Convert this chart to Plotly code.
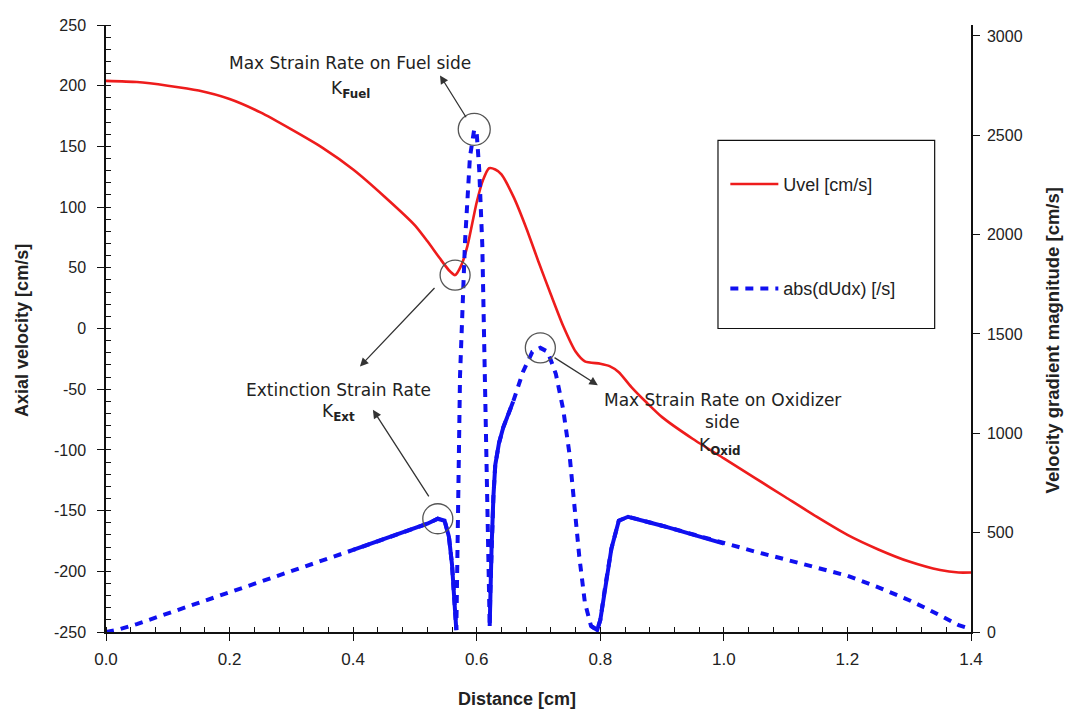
import numpy as np
import plotly.graph_objects as go

# ---------------- data ----------------
uvel_x = [0.0, 0.05, 0.1, 0.15, 0.2, 0.25, 0.3, 0.35, 0.4, 0.45, 0.5, 0.52, 0.54, 0.555,
          0.565, 0.575, 0.585, 0.6, 0.61, 0.62, 0.63, 0.64, 0.66, 0.68, 0.7, 0.72, 0.74,
          0.76, 0.775, 0.8, 0.815, 0.83, 0.85, 0.875, 0.9, 0.95, 1.0, 1.05, 1.1, 1.15,
          1.2, 1.25, 1.3, 1.35, 1.38, 1.4]
uvel_y = [204, 203, 200, 196, 189, 178, 164, 149, 131, 109, 85, 72, 58, 48,
          44, 52, 68, 104, 122, 132, 131, 127, 108, 83, 55, 28, 2,
          -19, -27, -29, -31, -36, -48, -61, -73, -91, -107, -123, -139, -155,
          -170, -182, -192, -199, -201, -201]

dudx_x = [0.0, 0.02, 0.05, 0.1, 0.15, 0.2, 0.25, 0.3, 0.35, 0.4, 0.45, 0.5, 0.52, 0.537,
          0.548, 0.555, 0.56, 0.564, 0.567, 0.573, 0.581, 0.589, 0.596, 0.6, 0.604, 0.609,
          0.613, 0.617, 0.621, 0.622, 0.624, 0.627, 0.63, 0.636, 0.643, 0.659, 0.675, 0.69,
          0.703, 0.715, 0.728, 0.74, 0.75, 0.758, 0.766, 0.775, 0.785, 0.795, 0.8, 0.808,
          0.818, 0.83, 0.845, 0.9, 0.95, 1.0, 1.05, 1.1, 1.15, 1.2, 1.25, 1.3, 1.33, 1.36,
          1.38, 1.4]
dudx_y = [0, 12, 40, 95, 148, 200, 253, 305, 358, 413, 468, 522, 545, 570,
          560, 480, 340, 150, 10, 1290, 1960, 2390, 2530, 2510, 2330, 1950,
          1300, 560, 30, 200, 420, 680, 840, 950, 1030, 1160, 1310, 1410,
          1430, 1410, 1300, 1120, 900, 620, 380, 150, 30, 10, 60, 230,
          420, 560, 580, 535, 490, 445, 405, 365, 325, 283, 225, 160, 115, 65,
          35, 15]

# x-ranges where the original dashed curve renders as a solid stroke
solid_ranges = [(0.36, 0.567), (0.621, 0.66), (0.785, 1.0)]

x_ticks = [0.0, 0.2, 0.4, 0.6, 0.8, 1.0, 1.2, 1.4]
left_ticks = [-250, -200, -150, -100, -50, 0, 50, 100, 150, 200, 250]
right_ticks = [0, 500, 1000, 1500, 2000, 2500, 3000]

RED = "#ee1c1c"
BLUE = "#1010f0"
TXT = "#222222"

fig = go.Figure()
fig.add_trace(go.Scatter(x=uvel_x, y=uvel_y, mode="lines", name="Uvel [cm/s]",
                         line=dict(color=RED, width=2.6, shape="spline", smoothing=0.6),
                         legendgroup="a", yaxis="y"))
fig.add_trace(go.Scatter(x=dudx_x, y=dudx_y, mode="lines", name="abs(dUdx) [/s]",
                         line=dict(color=BLUE, width=4, dash="8px,7px"),
                         legendgroup="b", yaxis="y2"))

dx = np.array(dudx_x)
dy = np.array(dudx_y, dtype=float)
sx, sy = [], []
for a, b in solid_ranges:
    m = (dx >= a) & (dx <= b)
    sx += list(dx[m]) + [None]
    sy += list(dy[m]) + [None]
fig.add_trace(go.Scatter(x=sx, y=sy, mode="lines", showlegend=False, hoverinfo="skip",
                         line=dict(color=BLUE, width=4), yaxis="y2"))

# ---------------- highlighted points (circles) ----------------
ux = np.array(uvel_x); uy = np.array(uvel_y, dtype=float)
i_fuel = int(np.argmax(dy))
m_ext = dx < 0.56
i_ext = int(np.argmax(np.where(m_ext, dy, -1)))
m_ox = (dx > 0.65) & (dx < 0.76)
i_ox = int(np.argmax(np.where(m_ox, dy, -1)))
m_min = (ux > 0.5) & (ux < 0.6)
i_min = int(np.argmin(np.where(m_min, uy, 1e9)))

circles = [(dx[i_fuel], dy[i_fuel], "y2", 16),
           (dx[i_ext], dy[i_ext], "y2", 15),
           (dx[i_ox], dy[i_ox], "y2", 15),
           (ux[i_min], uy[i_min], "y", 15)]
shapes = []
for cx, cy, yr, r in circles:
    shapes.append(dict(type="circle", xref="x", yref=yr, xsizemode="pixel", ysizemode="pixel",
                       xanchor=cx, yanchor=cy, x0=-r, x1=r, y0=-r, y1=r,
                       line=dict(color="#555555", width=1.3)))

# legend box
shapes.append(dict(type="rect", xref="paper", yref="paper", x0=0.7075, x1=0.958,
                   y0=0.50, y1=0.8098, line=dict(color="#111111", width=1.2),
                   fillcolor="rgba(0,0,0,0)"))

# ---------------- annotations ----------------
anns = []
# arrows: (head_x, head_y, tail_x, tail_y) in x / left-y data coords
arrows = [(0.5406, 208.5, 0.5843, 172.8),
          (0.411, -31.3, 0.534, 34.6),
          (0.432, -67.0, 0.524, -139.5),
          (0.796, -46.7, 0.7235, -23.2)]
for hx, hy, tx, ty in arrows:
    anns.append(dict(x=hx, y=hy, ax=tx, ay=ty, xref="x", yref="y", axref="x", ayref="y",
                     text="", showarrow=True, arrowhead=2, arrowsize=1.3, arrowwidth=1.3,
                     arrowcolor="#333333", standoff=0, startstandoff=0))

AF = dict(family="DejaVu Sans", size=17, color=TXT)
labels = [(0.395, 219.1, "Max Strain Rate on Fuel side"),
          (0.395, 197.2, "K<sub><b>Fuel</b></sub>"),
          (0.3755, -50.8, "Extinction Strain Rate"),
          (0.3755, -69.5, "K<sub><b>Ext</b></sub>"),
          (0.997, -58.9, "Max Strain Rate on Oxidizer"),
          (0.997, -76.8, "side"),
          (0.9937, -97.2, "K<sub><b>Oxid</b></sub>")]
for lx, ly, t in labels:
    anns.append(dict(x=lx, y=ly, xref="x", yref="y", text=t, showarrow=False,
                     font=AF, xanchor="center", yanchor="middle"))

TF = dict(family="Liberation Sans", size=18, color=TXT)
anns.append(dict(x=-0.0971, y=0.496, xref="paper", yref="paper", text="<b>Axial velocity [cm/s]</b>",
                 textangle=-90, showarrow=False, font=TF, xanchor="center", yanchor="middle"))
anns.append(dict(x=1.0945, y=0.48, xref="paper", yref="paper",
                 text="<b>Velocity gradient magnitude [cm/s]</b>",
                 textangle=-90, showarrow=False, font=dict(family="Liberation Sans", size=18.5, color=TXT),
                 xanchor="center", yanchor="middle"))
anns.append(dict(x=0.475, y=-0.1106, xref="paper", yref="paper", text="<b>Distance [cm]</b>",
                 showarrow=False, font=TF, xanchor="center", yanchor="middle"))

tickfont = dict(family="Liberation Sans", size=16, color=TXT)
fig.update_layout(
    width=1057, height=703,
    margin=dict(l=98, r=94, t=9, b=79, pad=0),
    paper_bgcolor="white", plot_bgcolor="white",
    showlegend=True,
    legend=dict(x=0.716, y=0.768, xanchor="left", yanchor="top", bgcolor="rgba(0,0,0,0)",
                borderwidth=0, font=dict(family="Liberation Sans", size=18, color=TXT),
                traceorder="grouped", tracegroupgap=78, itemwidth=48),
    xaxis=dict(range=[0, 1.4], tickvals=x_ticks, ticktext=[f"{v:.1f}" for v in x_ticks],
               showline=True, linecolor="#111111", linewidth=1.5, ticks="outside",
               ticklen=7, tickwidth=1.3, tickcolor="#111111", showgrid=False, zeroline=False,
               tickfont=dict(family="Liberation Sans Narrow, Liberation Sans", size=17, color=TXT),
               minor=dict(ticks="inside", ticklen=5, dtick=0.04, tick0=0, tickcolor="#111111",
                          showgrid=False),
               ticklabelstandoff=4, fixedrange=True),
    yaxis=dict(range=[-250, 250], tickvals=left_ticks, ticktext=[str(v) for v in left_ticks],
               showline=True, linecolor="#111111",
               linewidth=1.5, ticks="outside", ticklen=7, tickwidth=1.3, tickcolor="#111111",
               showgrid=False, zeroline=False, tickfont=tickfont,
               minor=dict(ticks="inside", ticklen=5, dtick=10, tick0=0, tickcolor="#111111",
                          showgrid=False),
               ticklabelstandoff=8),
    yaxis2=dict(range=[0, 3055], tickvals=right_ticks, ticktext=[str(v) for v in right_ticks],
                overlaying="y", side="right",
                showline=True, linecolor="#111111", linewidth=1.5, ticks="outside",
                ticklen=7, tickwidth=1.3, tickcolor="#111111", showgrid=False,
                zeroline=False, tickfont=tickfont, ticklabelstandoff=4),
    shapes=shapes,
    annotations=anns,
)

fig.write_html("out.html")
